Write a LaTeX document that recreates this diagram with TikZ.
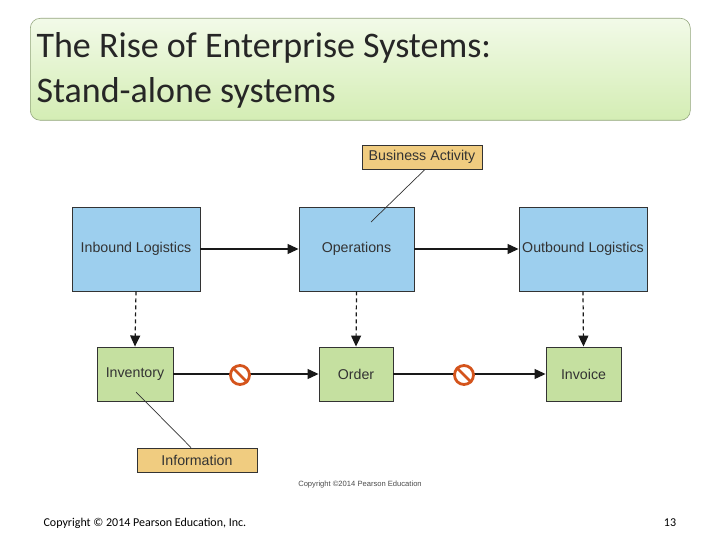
\documentclass[tikz,border=0pt]{standalone}
\usepackage{fontspec}
\setmainfont{Liberation Sans}
\newfontfamily\calfont{Carlito}
\usetikzlibrary{arrows.meta}
\definecolor{bluebox}{HTML}{9DCFEE}
\definecolor{greenbox}{HTML}{C5E0A0}
\definecolor{tanbox}{HTML}{F0CC80}
\definecolor{nored}{HTML}{D4541C}
\definecolor{titletop}{HTML}{F2FAE8}
\definecolor{titlebot}{HTML}{D4EDB4}
\begin{document}
\begin{tikzpicture}[x=1pt,y=-1pt,
  box/.style={draw=black!80,line width=0.9pt,inner sep=0pt,font=\fontsize{14.2}{16}\selectfont,text=black!80},
  arr/.style={-{Triangle[length=11pt,width=10pt]},line width=1.2pt,black!90},
  darr/.style={arr,dash pattern=on 4pt off 3pt},
  thin/.style={line width=0.7pt,black!80}]
\useasboundingbox (0,0) rectangle (720,540);
\fill[white] (0,0) rectangle (720,540);
\node[draw=titlebot!70!black,rounded corners=10pt,top color=titletop,bottom color=titlebot,minimum width=660pt,minimum height=102pt,anchor=north west,line width=0.6pt] (title) at (30,18) {};
\node[anchor=west,font=\calfont\fontsize{36}{45}\selectfont,align=left,text=black!85] (tt) at (33,70) {The Rise of Enterprise Systems:\\Stand-alone systems};
% blue
\node[box,fill=bluebox,minimum width=128pt,minimum height=84pt] (ib) at (136,249) {Inbound Logistics};
\node[box,fill=bluebox,minimum width=115pt,minimum height=84pt] (op) at (356.5,249) {Operations};
\node[box,fill=bluebox,minimum width=128pt,minimum height=84pt] (ob) at (583,249) {Outbound Logistics};
% green
\node[box,fill=greenbox,minimum width=76pt,minimum height=54pt] (inv) at (135,374) {Inventory};
\node[box,fill=greenbox,minimum width=74pt,minimum height=54pt] (ord) at (356,374) {Order};
\node[box,fill=greenbox,minimum width=75pt,minimum height=54pt] (ic) at (583.5,374) {Invoice};
% tan
\node[box,fill=tanbox,minimum width=120pt,minimum height=24pt] (ba) at (422,157) {Business Activity};
\node[box,fill=tanbox,minimum width=120pt,minimum height=24pt] (info) at (197,460) {Information};
\draw[arr] (ib) -- (op);
\draw[arr] (op) -- (ob);
\draw[darr] (ib.south) -- (inv.north);
\draw[darr] (op.south) -- (ord.north);
\draw[darr] (ob.south) -- (ic.north);
\draw[arr] (inv) -- (ord);
\draw[arr] (ord) -- (ic);
\coordinate (bae) at (371,222);
\coordinate (infe) at (136,392);
\draw[thin] (ba.south) ++(3,0) -- (bae);
\draw[thin] (info.north) ++(-6,0) -- (infe);
\foreach \n/\x in {n1/240,n2/464}{
  \node[circle,fill=white,draw=nored,line width=2.8pt,minimum size=19pt,inner sep=0pt] (\n) at (\x,375) {};
  \draw[nored,line width=2.8pt] (\n.north west) -- (\n.south east);
}
\node[font=\fontsize{7.6}{9}\selectfont,text=black!70] (cp) at (360,485) {Copyright \textcopyright2014 Pearson Education};
\node[anchor=west,font=\calfont\fontsize{12}{14}\selectfont] (c1) at (40,523) {Copyright © 2014 Pearson Education, Inc.};
\node[font=\calfont\fontsize{12}{14}\selectfont] (pg) at (670,523) {13};
\end{tikzpicture}
\end{document}
